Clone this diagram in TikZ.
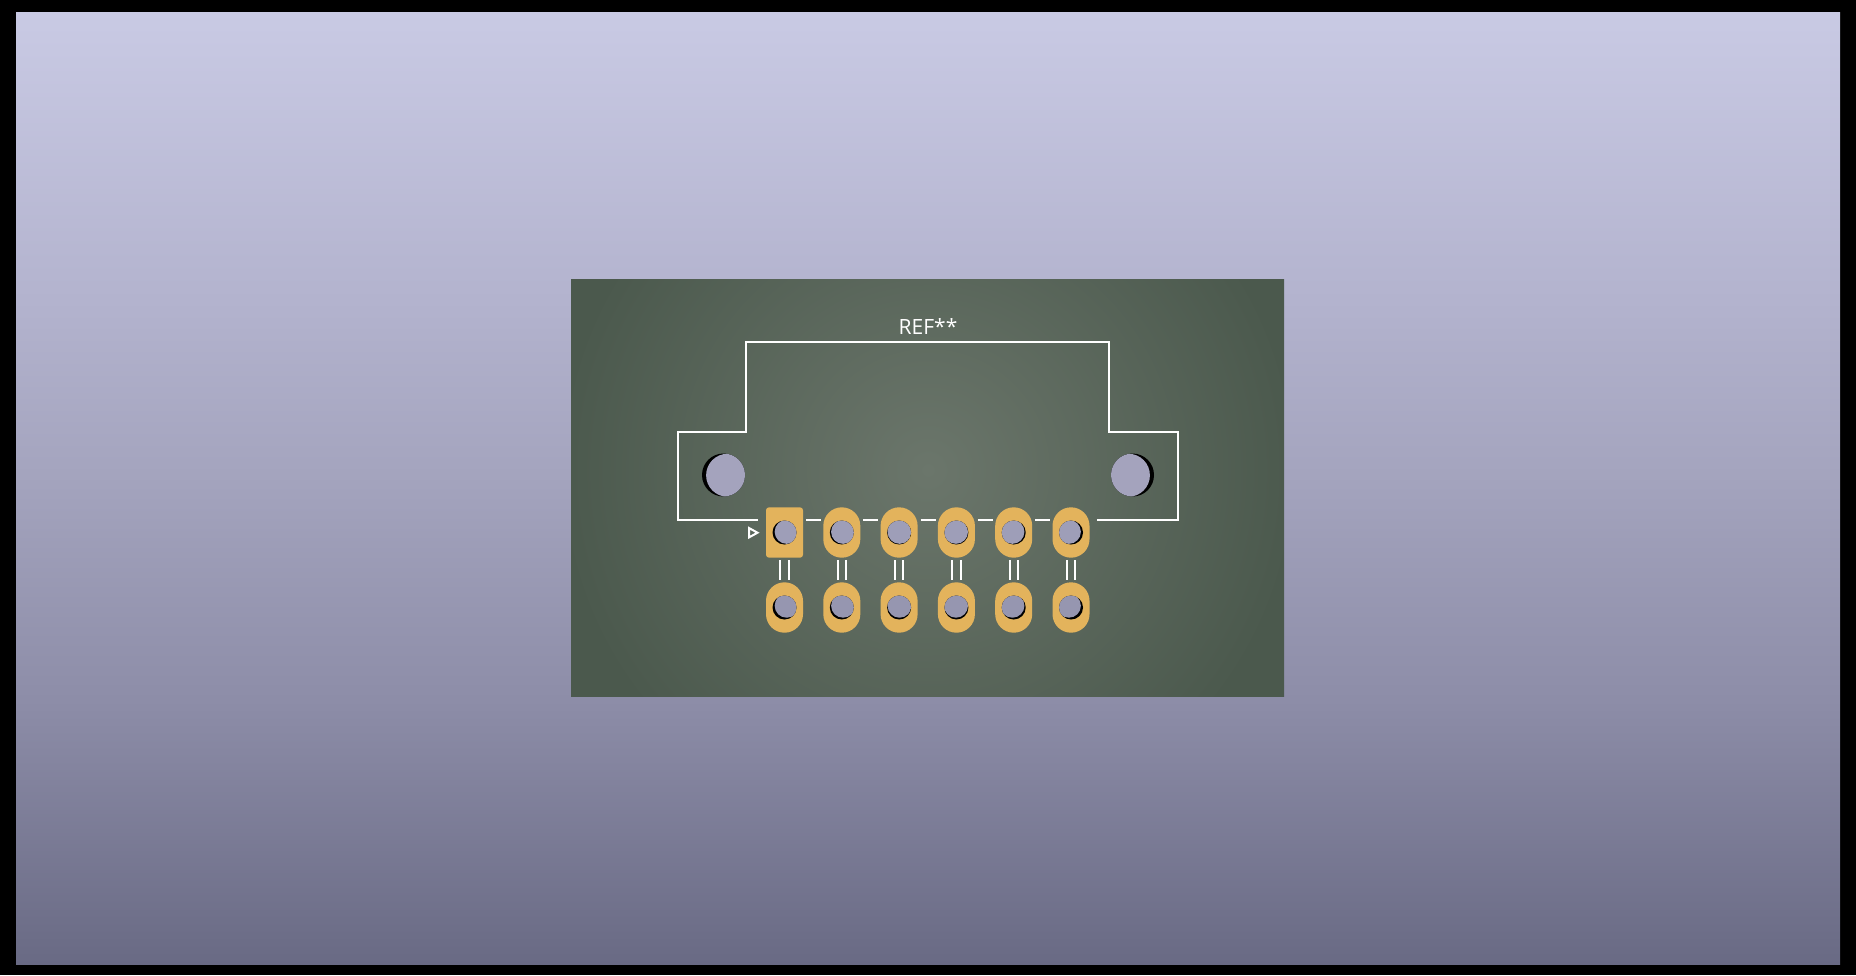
\documentclass[tikz,border=0pt]{standalone}
\usepackage{fontspec}
\setmainfont{Open Sans}
\usetikzlibrary{shapes.misc}
\definecolor{boardmid}{HTML}{6B766B}
\definecolor{boardrim}{HTML}{4B594D}
\definecolor{padcol}{HTML}{E3B35C}
\definecolor{seemount}{HTML}{A4A3BD}
\definecolor{seerowa}{HTML}{9E9EB8}
\definecolor{seerowb}{HTML}{9696B0}
\pgfdeclareverticalshading{backdrop}{100bp}{
    rgb(0bp)=(0.412,0.416,0.518); rgb(25bp)=(0.412,0.416,0.518);
    rgb(38.9bp)=(0.553,0.553,0.659); rgb(50.7bp)=(0.643,0.643,0.745);
    rgb(59.9bp)=(0.702,0.702,0.808); rgb(75bp)=(0.788,0.792,0.894);
    rgb(100bp)=(0.788,0.792,0.894)}
\tikzset{
    silk/.style={draw=white, line width=1pt},
    padshape/.style={shape=rounded rectangle, rotate=90, fill=padcol, inner sep=0pt, minimum width=25.2pt, minimum height=18.5pt},
    squarepad/.style={shape=rectangle, fill=padcol, inner sep=0pt, minimum width=18.5pt, minimum height=25.2pt, rounded corners=1.5pt},
    bore/.style={shape=circle, fill=black, inner sep=0pt, minimum size=#1},
}
% name, x, y, radius, shift factor, colour seen through the hole
\newcommand{\holeat}[6]{%
    \pgfmathsetmacro{\holex}{#2+#5*(928-#2)}
    \pgfmathsetmacro{\holey}{#3-#5*(#3-488)}
    \node[bore=#4 pt] (#1) at (#2,#3) {};
    \begin{scope}
        \clip (#1.center) circle[radius=#4];
        \fill[#6] (\holex,\holey) circle[radius=#4];
    \end{scope}
}
\begin{document}
\begin{tikzpicture}[x=0.5pt,y=-0.5pt]
    \useasboundingbox (0,0) rectangle (1856,975);
    \fill[black] (0,0) rectangle (1856,975);
    \shade[shading=backdrop] (16,12) rectangle (1840,964);

    % board
    \begin{scope}
        \clip (571,279.5) rectangle (1284,696);
        \shade[inner color=boardmid, outer color=boardrim] (558,100) rectangle (1298,840);
    \end{scope}

    % outline
    \draw[silk, line join=miter] (758,519.5) -- (678,519.5) -- (678,431.5) -- (746,431.5) -- (746,341.5)
        -- (1109,341.5) -- (1109,431.5) -- (1177.5,431.5) -- (1177.5,519.5) -- (1097,519.5);
    \node[text=white, font=\fontsize{10.5}{10.5}\selectfont, inner sep=0pt] (ref) at (928,326.5) {REF**};

    % mounting holes
    \holeat{mleft}{723.5}{475}{21.5}{0.02}{seemount}
    \holeat{mright}{1132.5}{475}{21.5}{0.02}{seemount}

    % pads
    \node[squarepad] (a1) at (784.5,532.5) {};
    \foreach \n in {2,...,6}
        \node[padshape] (a\n) at (784.5+57.3*\n-57.3,532.5) {};
    \foreach \n in {1,...,6}
        \node[padshape] (b\n) at (784.5+57.3*\n-57.3,607.5) {};

    \foreach \n in {1,...,6} {
        \pgfmathsetmacro{\padx}{784.5+57.3*\n-57.3}
        \holeat{ha\n}{\padx}{532.5}{12}{0.015}{seerowa}
        \holeat{hb\n}{\padx}{607.5}{12}{0.015}{seerowb}
        \draw[silk] (\padx-4.2,560) -- (\padx-4.2,580);
        \draw[silk] (\padx+4.2,560) -- (\padx+4.2,580);
    }
    \foreach \n in {1,...,5} {
        \pgfmathsetmacro{\padx}{784.5+57.3*\n-57.3}
        \draw[silk] (\padx+21.5,519.5) -- (\padx+36.5,519.5);
    }

    % pin one mark
    \draw[silk] (749,528) -- (757.5,532.7) -- (749,537.4) -- cycle;
\end{tikzpicture}
\end{document}
